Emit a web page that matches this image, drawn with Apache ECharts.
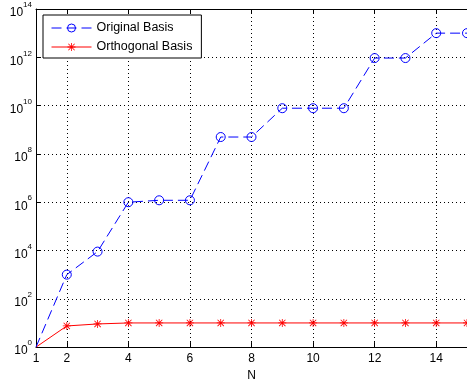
<!DOCTYPE html>
<html><head><meta charset="utf-8">
<script src="https://cdn.jsdelivr.net/npm/echarts@6/dist/echarts.min.js"></script>
<style>html,body{margin:0;padding:0;background:#fff}#c{width:467px;height:387px}</style>
</head><body><div id="c"></div>
<script>
var N = [1,2,3,4,5,6,7,8,9,10,11,12,13,14,15];
var originalBasis = [1, 1e3, 9e3, 1e6, 1.2e6, 1.2e6, 5e8, 5e8, 7.8e9, 7.8e9, 7.8e9, 9.3e11, 9.3e11, 1e13, 1e13];
var orthogonalBasis = [1, 7.5, 9.1, 10, 10, 10, 10, 10, 10, 10, 10, 10, 10, 10, 10];
var xTicks = [1,2,4,6,8,10,12,14];
var yTicks = [1,1e2,1e4,1e6,1e8,1e10,1e12,1e14];

var asterisk = 'path://M45 0L55 0L55 100L45 100Z M0 45L100 45L100 55L0 55Z M14 7L93 86L86 93L7 14Z M86 7L93 14L14 93L7 86Z';
function mk(arr){
  return N.map(function(n,i){
    var d = {value:[n, arr[i]]};
    if (i===0) d.symbol='none';
    return d;
  });
}
var font = 'Liberation Sans, Arial, Helvetica, sans-serif';
var chart = echarts.init(document.getElementById('c'), null, {renderer:'canvas'});
chart.setOption({
  animation:false,
  backgroundColor:'#fff',
  grid:{left:36, top:9, right:-3.4, bottom:36.3, containLabel:false},
  legend:{
    left:43, top:15, orient:'vertical',
    backgroundColor:'#fff', borderColor:'#000', borderWidth:1, borderRadius:0,
    padding:[6,9,4,8], itemGap:5, itemWidth:40, itemHeight:10,
    lineStyle:{width:1},
    itemStyle:{borderWidth:1},
    textStyle:{fontFamily:font, fontSize:12.5, lineHeight:14, color:'#000'},
    data:['Original Basis','Orthogonal Basis']
  },
  xAxis:[{
    type:'value', min:1, max:15, position:'bottom',
    name:'N', nameLocation:'middle', nameGap:21,
    nameTextStyle:{fontFamily:font, fontSize:12, color:'#000'},
    axisLine:{show:true, lineStyle:{color:'#000', width:1}},
    axisTick:{show:true, inside:true, length:5, customValues:xTicks, lineStyle:{color:'#000'}},
    axisLabel:{show:true, customValues:xTicks, margin:6, fontFamily:font, fontSize:12, color:'#000'},
    splitLine:{show:true, lineStyle:{color:'#000', type:[1,3], width:1}}
  },{
    type:'value', min:1, max:15, position:'top',
    axisLine:{show:true, lineStyle:{color:'#000', width:1}},
    axisTick:{show:true, inside:true, length:5, customValues:xTicks, lineStyle:{color:'#000'}},
    axisLabel:{show:false},
    splitLine:{show:false}
  }],
  yAxis:{
    type:'log', logBase:10, min:1, max:1e14,
    axisLine:{show:true, lineStyle:{color:'#000', width:1}},
    axisTick:{show:true, inside:true, length:5, customValues:yTicks, lineStyle:{color:'#000'}},
    minorTick:{show:false},
    axisLabel:{
      show:true, customValues:yTicks, margin:4,
      formatter:function(v){ var e=Math.round(Math.log10(v)); return '{b|10}{s|'+e+'}'; },
      rich:{
        b:{fontFamily:font, fontSize:12, color:'#000', padding:[8,0,0,0]},
        s:{fontFamily:font, fontSize:8, color:'#000', padding:[0,0,8,0]}
      }
    },
    splitLine:{show:true, lineStyle:{color:'#000', type:[1,3], width:1}}
  },
  series:[{
    name:'Original Basis', type:'line', data:mk(originalBasis),
    symbol:'circle', symbolSize:9,
    itemStyle:{color:'rgba(0,0,0,0)', borderColor:'#0000ff', borderWidth:1},
    lineStyle:{color:'#0000ff', width:1, type:[10,5]},
    clip:false, z:3
  },{
    name:'Orthogonal Basis', type:'line', data:mk(orthogonalBasis),
    symbol:asterisk, symbolSize:8,
    itemStyle:{color:'#ff0000'},
    lineStyle:{color:'#ff0000', width:1},
    clip:false, z:2
  }]
});
</script></body></html>
